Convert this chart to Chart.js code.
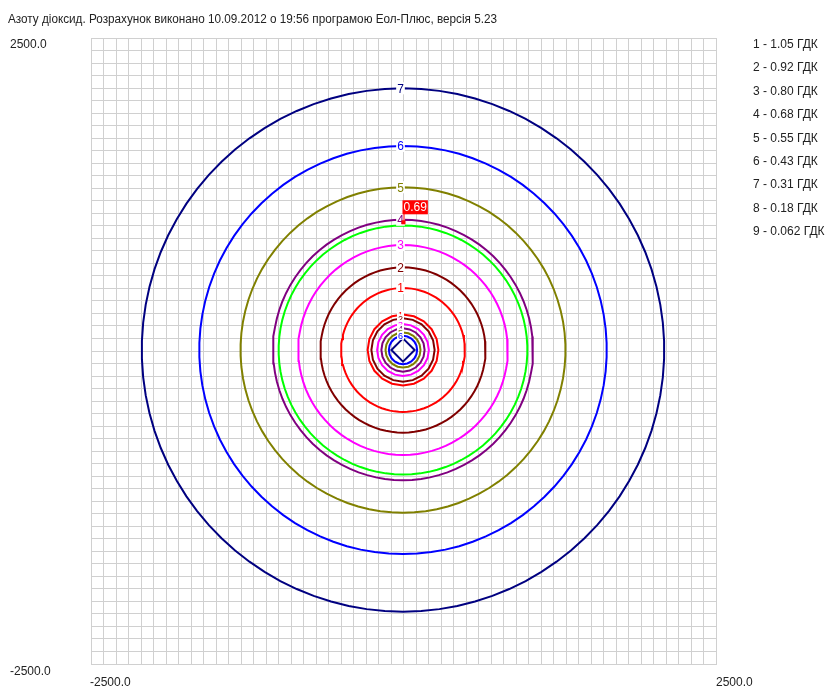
<!DOCTYPE html>
<html><head><meta charset="utf-8">
<script src="https://cdn.jsdelivr.net/npm/chart.js@4/dist/chart.umd.min.js"></script>
<style>html,body{margin:0;padding:0;background:#fff}#wrap{position:relative;width:825px;height:687px}</style>
</head><body><div id="wrap"><canvas id="c" width="825" height="687"></canvas></div>
<script>
const titleText = 'Азоту діоксид. Розрахунок виконано 10.09.2012 о 19:56 програмою Еол-Плюс, версія 5.23';
const axisMin = -2500, axisMax = 2500, gridStep = 100;
const xTickLabels = ['-2500.0', '2500.0'];
const yTickLabels = ['-2500.0', '2500.0'];
const contourNumbers = ['1', '2', '3', '4', '5', '6', '7'];
const contourColors = ['#ff0000', '#800000', '#ff00ff', '#800080', '#808000', '#0000ff', '#000080'];
const outerRadii = [495, 660, 838, 1040, 1300, 1630, 2090];
const innerRadii = [283, 253, 207, 173, 140, 113, 93];
const innerVertexCount = [20, 20, 20, 20, 20, 20, 4];
const maxLineRadius = 995;
const maxLineColor = '#00ff00';
const sourceCenter = { x: -4, y: 8 };
const legendLabels = ['1 - 1.05 ГДК', '2 - 0.92 ГДК', '3 - 0.80 ГДК', '4 - 0.68 ГДК', '5 - 0.55 ГДК', '6 - 0.43 ГДК', '7 - 0.31 ГДК', '8 - 0.18 ГДК', '9 - 0.062 ГДК'];
const maxValueLabel = '0.69';
const maxValuePoint = { x: 0, y: 1020 };

function ring(r, n, rot) {
  const pts = [];
  for (let i = 0; i <= n; i++) {
    const a = rot + i * 2 * Math.PI / n;
    pts.push({ x: sourceCenter.x + r * Math.sin(a), y: sourceCenter.y + r * Math.cos(a) });
  }
  return pts;
}

const datasets = [];
outerRadii.forEach((r, i) => datasets.push({ data: ring(r, 90, 0), borderColor: contourColors[i] }));
datasets.push({ data: ring(maxLineRadius, 90, 0), borderColor: maxLineColor });
innerRadii.forEach((r, i) => datasets.push({ data: ring(r, innerVertexCount[i], 0), borderColor: contourColors[i] }));
datasets.forEach(d => Object.assign(d, { showLine: true, borderWidth: 2, pointRadius: 0, fill: false, tension: 0 }));

const FONT = '12px "Liberation Sans", Arial, sans-serif';
const TXT = '#222';

const overlay = {
  id: 'overlay',
  afterDatasetsDraw(chart) {
    const ctx = chart.ctx, xs = chart.scales.x, ys = chart.scales.y;
    ctx.save();
    ctx.textAlign = 'center';
    ctx.textBaseline = 'middle';
    const lbl = (r, i, small) => {
      const px = xs.getPixelForValue(sourceCenter.x - 20);
      const py = ys.getPixelForValue(sourceCenter.y + r);
      ctx.font = small ? '9px "Liberation Sans", Arial, sans-serif' : FONT;
      const w = ctx.measureText(contourNumbers[i]).width + 2;
      ctx.fillStyle = '#fff';
      ctx.fillRect(px - w / 2, py - (small ? 4 : 6), w, small ? 8 : 12);
      ctx.fillStyle = contourColors[i];
      ctx.fillText(contourNumbers[i], px, py + 1);
    };
    outerRadii.forEach((r, i) => lbl(r, i, false));
    innerRadii.forEach((r, i) => { if (i < 6) lbl(r, i, true); });
    const mx = xs.getPixelForValue(maxValuePoint.x), my = ys.getPixelForValue(maxValuePoint.y);
    ctx.strokeStyle = '#ff0000'; ctx.lineWidth = 1;
    ctx.beginPath(); ctx.moveTo(mx + 0.5, my); ctx.lineTo(mx + 0.5, my - 10); ctx.stroke();
    ctx.fillStyle = '#ff0000';
    ctx.fillRect(mx - 2, my - 3, 4, 4);
    ctx.font = FONT;
    const tw = ctx.measureText(maxValueLabel).width + 2;
    ctx.fillRect(mx - 1, my - 23, tw, 14);
    ctx.fillStyle = '#fff';
    ctx.textAlign = 'left';
    ctx.fillText(maxValueLabel, mx, my - 15.5);
    ctx.fillStyle = TXT;
    ctx.textBaseline = 'alphabetic';
    ctx.save();
    ctx.translate(8, 23);
    ctx.scale(489 / ctx.measureText(titleText).width, 1);
    ctx.fillText(titleText, 0, 0);
    ctx.restore();
    ctx.fillText(yTickLabels[1], 10, 48);
    ctx.fillText(yTickLabels[0], 10, 675);
    ctx.fillText(xTickLabels[0], xs.left - 1, 686);
    ctx.fillText(xTickLabels[1], xs.right, 686);
    legendLabels.forEach((t, i) => ctx.fillText(t, 753, 48 + i * 23.4));
    ctx.restore();
  }
};

new Chart(document.getElementById('c'), {
  type: 'scatter',
  data: { datasets },
  options: {
    responsive: false, animation: false, devicePixelRatio: 1,
    layout: { padding: { left: 91, top: 38, right: 109, bottom: 23 } },
    plugins: { legend: { display: false }, tooltip: { enabled: false } },
    scales: {
      x: { min: axisMin, max: axisMax, ticks: { display: false, stepSize: gridStep, autoSkip: false },
           grid: { color: '#d0d0d0', drawTicks: false, lineWidth: 1 }, border: { color: '#d0d0d0' } },
      y: { min: axisMin, max: axisMax, ticks: { display: false, stepSize: gridStep, autoSkip: false },
           grid: { color: '#d0d0d0', drawTicks: false, lineWidth: 1 }, border: { color: '#d0d0d0' } }
    }
  },
  plugins: [overlay]
});
</script></body></html>
